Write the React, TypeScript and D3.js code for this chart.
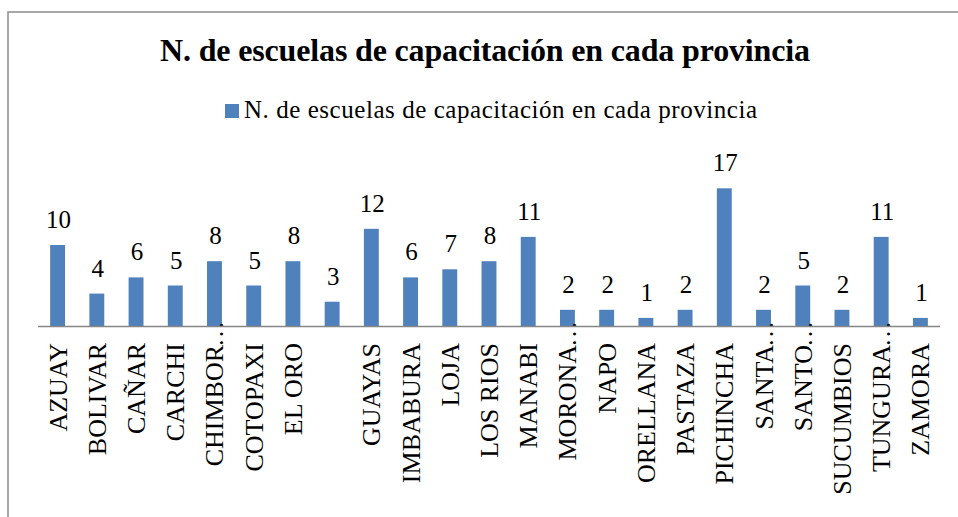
import React from "react";
import * as d3 from "d3";

const categories = [
  "AZUAY", "BOLIVAR", "CAÑAR", "CARCHI", "CHIMBOR…", "COTOPAXI", "EL ORO", "",
  "GUAYAS", "IMBABURA", "LOJA", "LOS RIOS", "MANABI", "MORONA…", "NAPO",
  "ORELLANA", "PASTAZA", "PICHINCHA", "SANTA…", "SANTO…", "SUCUMBIOS",
  "TUNGURA…", "ZAMORA",
];
const values = [10, 4, 6, 5, 8, 5, 8, 3, 12, 6, 7, 8, 11, 2, 2, 1, 2, 17, 2, 5, 2, 11, 1];
const seriesName = "N. de escuelas de capacitación en cada provincia";
const title = "N. de escuelas de capacitación en cada provincia";

const W = 958;
const H = 517;
const FONT = "Liberation Serif";
const BAR = "#4F81BD";

export default function App() {
  const idx = categories.map((_, i) => String(i));
  const x = d3.scaleBand<string>().domain(idx).range([38, 940]).paddingInner(0.62).paddingOuter(0.31);
  const y = d3.scaleLinear().domain([0, 20]).range([326, 164]);
  const bw = x.bandwidth();

  return (
    <svg width={W} height={H} style={{ position: "absolute", left: 0, top: 0, background: "#fff" }}>
      <rect x={8} y={12} width={980} height={540} fill="#fff" stroke="#8c8c8c" strokeWidth={1.5} />
      <text x={485} y={61} textAnchor="middle" fontFamily={FONT} fontWeight="bold" fontSize={32}
        textLength={650} lengthAdjust="spacing">{title}</text>
      <rect x={225} y={104} width={14} height={14} fill={BAR} />
      <text x={244} y={118} fontFamily={FONT} fontSize={25} textLength={513} lengthAdjust="spacing">{seriesName}</text>
      {values.map((v, i) => {
        const cx = (x(String(i)) as number) + bw / 2;
        const label = categories[i];
        const trunc = label.endsWith("…");
        const main = trunc ? label.slice(0, -1) : label;
        return (
          <g key={i}>
            <rect x={x(String(i))} y={y(v)} width={bw} height={y(0) - y(v)} fill={BAR} />
            <text x={cx + 1} y={y(v) - 17} textAnchor="middle" fontFamily={FONT} fontSize={25}>{v}</text>
            <g transform={`translate(${cx + 9},${trunc ? 345 : 343}) rotate(-90)`}>
              <text textAnchor="end" fontFamily={FONT} fontSize={26}>{main}</text>
              {trunc && <text x={-2} fontFamily={FONT} fontSize={26}>…</text>}
            </g>
          </g>
        );
      })}
      <line x1={38} x2={940} y1={326.5} y2={326.5} stroke="#868686" strokeWidth={1.5} />
    </svg>
  );
}
